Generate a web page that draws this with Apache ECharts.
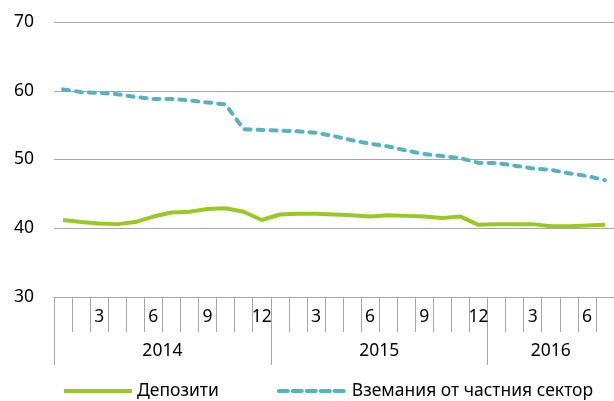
<!DOCTYPE html>
<html>
<head>
<meta charset="utf-8">
<script src="https://cdn.jsdelivr.net/npm/echarts@6/dist/echarts.min.js"></script>
<style>
  html, body { margin: 0; padding: 0; background: #fff; }
  #chart { width: 614px; height: 401px; }
</style>
</head>
<body>
<div id="chart"></div>
<script>
// months Jan 2014 - Jul 2016
const months = [
  "1", "2", "3", "4", "5", "6", "7", "8", "9", "10", "11", "12",
  "1", "2", "3", "4", "5", "6", "7", "8", "9", "10", "11", "12",
  "1", "2", "3", "4", "5", "6", "7",
];
const years = ["2014", "2015", "2016"];
const yearStarts = [0, 12, 24];
const yearCenters = [6, 18, 27.5];

const deposits = [
  41.2, 40.9, 40.7, 40.6, 40.9, 41.7, 42.3, 42.4, 42.8, 42.9, 42.4, 41.2,
  42.0, 42.1, 42.1, 42.0, 41.9, 41.7, 41.9, 41.8, 41.7, 41.5, 41.7, 40.5,
  40.6, 40.6, 40.6, 40.3, 40.3, 40.4, 40.5,
];
const loans = [
  60.2, 59.8, 59.7, 59.5, 59.1, 58.8, 58.8, 58.6, 58.3, 58.0, 54.4, 54.3,
  54.2, 54.1, 53.9, 53.4, 52.8, 52.3, 51.9, 51.3, 50.8, 50.5, 50.2, 49.5,
  49.5, 49.1, 48.7, 48.5, 48.0, 47.6, 47.0,
];

const font = "Noto Sans";
const grey = "#a6a6a6";

const chart = echarts.init(document.getElementById("chart"));
const option = {
  animation: false,
  textStyle: { fontFamily: font },
  grid: { left: 54, top: 22, width: 569, height: 275 },
  legend: {
    left: 57,
    top: 377,
    itemWidth: 68,
    itemHeight: 4,
    itemGap: 58,
    lineStyle: { width: 4 },
    itemStyle: { opacity: 0 },
    textStyle: { fontSize: 17.5, color: "#000", fontFamily: font },
    data: [
      "Депозити",
      { name: "Вземания от частния сектор", lineStyle: { type: [9, 5] } },
    ],
  },
  xAxis: [
    {
      type: "category",
      data: months,
      boundaryGap: true,
      axisLine: { lineStyle: { color: grey, width: 1 } },
      axisTick: { show: true, interval: 0, length: 35, lineStyle: { color: grey } },
      axisLabel: {
        interval: 0,
        margin: 11,
        fontSize: 17.5,
        color: "#000",
        formatter: (v) => (Number(v) % 3 === 0 ? v : ""),
      },
      splitLine: { show: false },
    },
    {
      type: "value",
      position: "bottom",
      min: 0,
      max: 31,
      axisLine: { show: false },
      splitLine: { show: false },
      axisTick: {
        show: true,
        length: 68,
        customValues: yearStarts,
        lineStyle: { color: grey },
      },
      axisLabel: {
        margin: 45,
        fontSize: 17.5,
        color: "#000",
        customValues: yearCenters,
        formatter: (v) => years[yearCenters.indexOf(v)] || "",
      },
    },
  ],
  yAxis: {
    type: "value",
    min: 30,
    max: 70,
    interval: 10,
    axisLine: { show: false },
    axisTick: { show: false },
    axisLabel: { margin: 20, fontSize: 17.5, color: "#000" },
    splitLine: { lineStyle: { color: grey, width: 1 } },
  },
  series: [
    {
      name: "Депозити",
      type: "line",
      data: deposits,
      symbol: "none",
      lineStyle: { color: "#99c723", width: 4 },
      itemStyle: { color: "#99c723" },
    },
    {
      name: "Вземания от частния сектор",
      type: "line",
      data: loans,
      symbol: "none",
      lineStyle: { color: "#55b2bf", width: 4, type: [6, 7], cap: "round" },
      itemStyle: { color: "#55b2bf" },
    },
  ],
};
chart.setOption(option);
</script>
</body>
</html>
